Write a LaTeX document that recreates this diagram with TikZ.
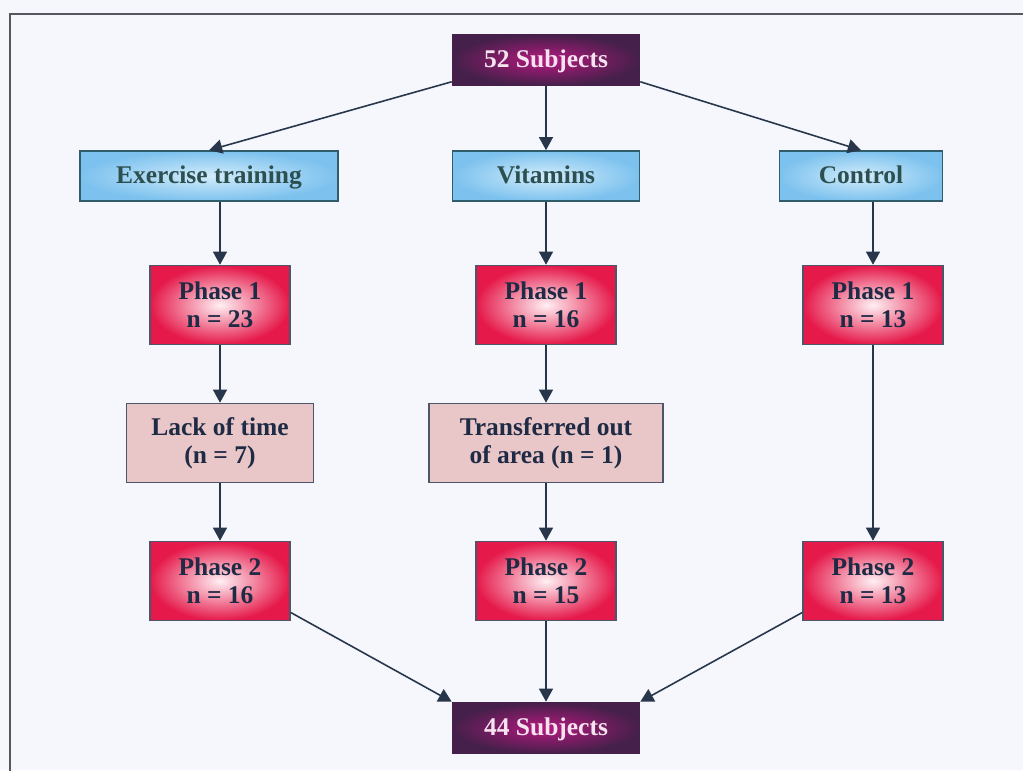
\documentclass[tikz,border=0pt]{standalone}
\usepackage{fontspec}
\setmainfont{Liberation Serif}
\usetikzlibrary{arrows.meta}

\definecolor{bgcol}{HTML}{F6F7FC}
\definecolor{framecol}{HTML}{55565F}
\definecolor{arrowcol}{HTML}{27364A}
\definecolor{purpin}{HTML}{B5187F}
\definecolor{purpout}{HTML}{45204A}
\definecolor{bluein}{HTML}{D2ECFB}
\definecolor{blueout}{HTML}{7DC2EE}
\definecolor{blueline}{HTML}{2F5D6B}
\definecolor{bluetext}{HTML}{2D4F50}
\definecolor{redin}{HTML}{FFF0F4}
\definecolor{redout}{HTML}{E5194A}
\definecolor{pinkfill}{HTML}{E9C7C8}
\definecolor{navytext}{HTML}{1F2A44}

\begin{document}
\begin{tikzpicture}[
    every node/.style={rectangle, draw, line width=0.9pt, align=center,
      font=\fontsize{14.5}{16.2}\selectfont\bfseries},
    subj/.style={draw=purpout, inner color=purpin, outer color=purpout,
      text=white!88!purpin, minimum width=3.74cm, minimum height=1.02cm,
      text height=2ex, text depth=0.2ex},
    group/.style={draw=blueline, inner color=bluein, outer color=blueout,
      text=bluetext, minimum height=1cm, text height=2ex, text depth=0.2ex},
    phase/.style={draw=navytext!80, inner color=redin, outer color=redout,
      text=navytext, minimum width=2.8cm, minimum height=1.58cm},
    drop/.style={draw=navytext!80, fill=pinkfill, text=navytext,
      minimum height=1.58cm},
    link/.style={draw=arrowcol, line width=0.9pt,
      -{Triangle[length=7.5pt, width=8pt]}}]

    % page and frame
    \fill[bgcol] (0,0) rectangle (20.46,-15.4);
    \useasboundingbox (0,0) rectangle (20.46,-15.4);
    \draw[framecol, line width=1.1pt] (21,-0.28) -- (0.2,-0.28) -- (0.2,-16);

    \node[subj] (S52) at (10.92, -1.2) {52 Subjects};

    \node[group, minimum width=5.16cm] (Ex) at (4.18, -3.52) {Exercise training};
    \node[group, minimum width=3.74cm] (Vit) at (10.92, -3.52) {Vitamins};
    \node[group, minimum width=3.26cm] (Ctl) at (17.22, -3.52) {Control};

    \node[phase] (P1E) at (4.4, -6.1) {Phase 1\\n = 23};
    \node[phase] (P1V) at (10.92, -6.1) {Phase 1\\n = 16};
    \node[phase] (P1C) at (17.46, -6.1) {Phase 1\\n = 13};

    \node[drop, minimum width=3.74cm] (LE) at (4.4, -8.86) {Lack of time\\(n = 7)};
    \node[drop, minimum width=4.68cm] (LV) at (10.92, -8.86) {Transferred out\\of area (n = 1)};

    \node[phase] (P2E) at (4.4, -11.62) {Phase 2\\n = 16};
    \node[phase] (P2V) at (10.92, -11.62) {Phase 2\\n = 15};
    \node[phase] (P2C) at (17.46, -11.62) {Phase 2\\n = 13};

    \node[subj] (S44) at (10.92, -14.56) {44 Subjects};

    \draw[link] (S52.193) -- (Ex.north);
    \draw[link] (S52.south) -- (Vit.north);
    \draw[link] (S52.-13) -- (Ctl.north);

    \draw[link] (P1E.north |- Ex.south) -- (P1E.north);
    \draw[link] (Vit.south) -- (P1V.north);
    \draw[link] (P1C.north |- Ctl.south) -- (P1C.north);

    \draw[link] (P1E) -- (LE);
    \draw[link] (P1V) -- (LV);
    \draw[link] (LE) -- (P2E);
    \draw[link] (LV) -- (P2V);
    \draw[link] (P1C) -- (P2C);

    \draw[link] (P2E.-24) -- (S44.north west);
    \draw[link] (P2V) -- (S44);
    \draw[link] (P2C.204) -- (S44.north east);
\end{tikzpicture}
\end{document}
